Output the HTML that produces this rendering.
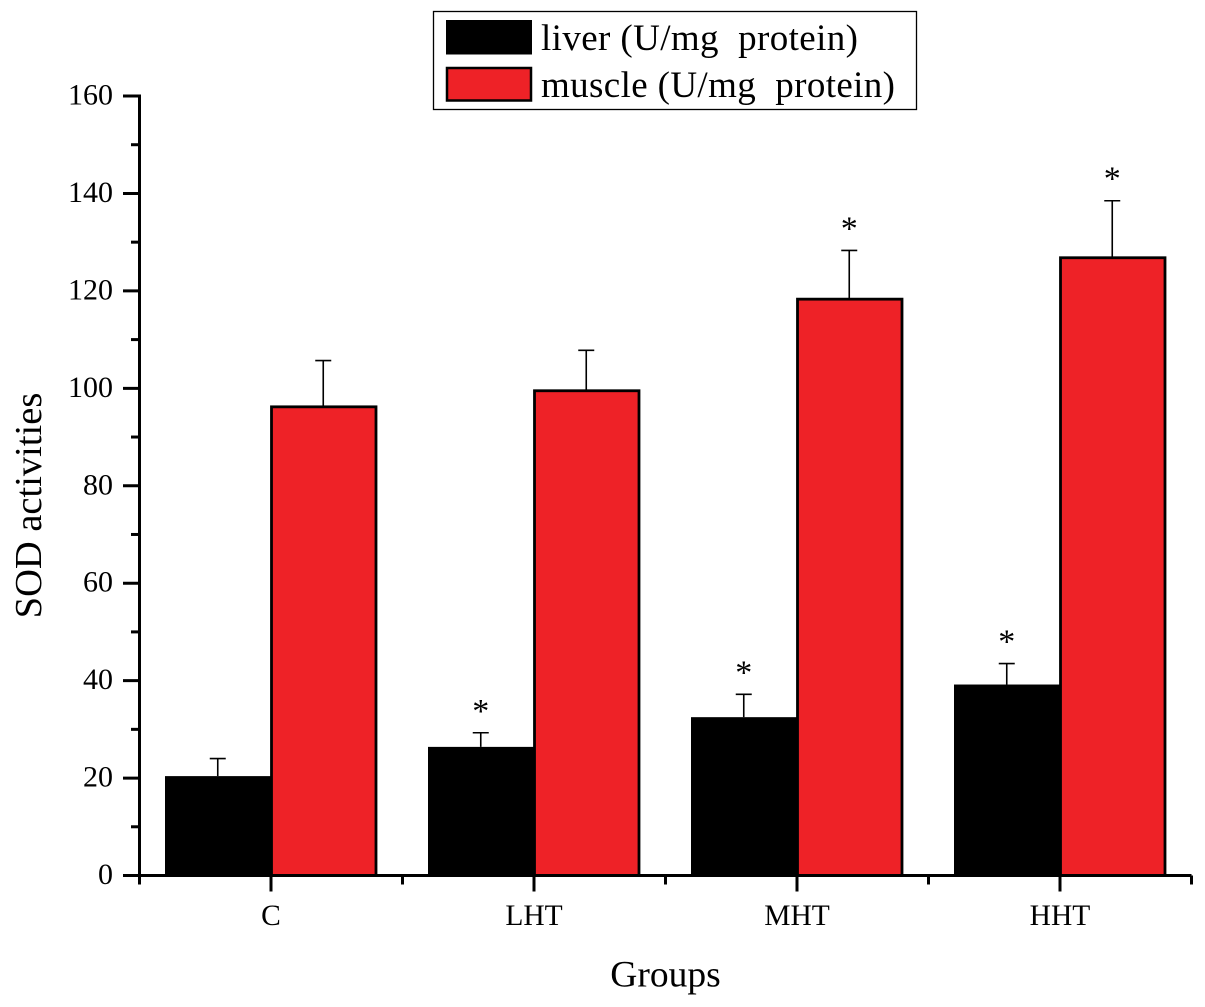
<!DOCTYPE html>
<html>
<head>
<meta charset="utf-8">
<title>SOD activities chart</title>
<style>
html,body{margin:0;padding:0;background:#fff;}
svg{display:block;}
text{font-family:"Liberation Serif",serif;fill:#000;white-space:pre;}
</style>
</head>
<body>
<svg id="chart" xmlns="http://www.w3.org/2000/svg" width="1205" height="1007" viewBox="0 0 1205 1007">
<rect width="1205" height="1007" fill="#fff"/>
<g id="bars"></g>
<g id="axes"></g>
<g id="legend">
<rect x="433.5" y="11.5" width="483" height="98" fill="#fff" stroke="#000" stroke-width="1.3"/>
<rect x="446" y="20" width="86" height="34.500" fill="#000"/>
<text x="541" y="50" font-size="37" textLength="317" lengthAdjust="spacing" xml:space="preserve">liver (U/mg  protein)</text>
<rect x="447" y="68" width="84" height="32.500" fill="#ee2227" stroke="#000" stroke-width="2.500"/>
<text x="541" y="97" font-size="37" textLength="354" lengthAdjust="spacing" xml:space="preserve">muscle (U/mg  protein)</text>
</g>
<text x="665.500" y="986.500" font-size="37.500" text-anchor="middle">Groups</text>
<text transform="translate(41 505.500) rotate(-90)" font-size="38.500" text-anchor="middle">SOD activities</text>
</svg>
<script>
const categories = ['C', 'LHT', 'MHT', 'HHT'];
const liverValues = [20.4, 26.4, 32.5, 39.2];
const muscleValues = [96.2, 99.5, 118.3, 126.8];
const liverErrors = [3.6, 2.9, 4.7, 4.3];
const muscleErrors = [9.5, 8.3, 10.0, 11.7];
const liverStars = [false, true, true, true];
const muscleStars = [false, false, true, true];
const yTickLabels = [0, 20, 40, 60, 80, 100, 120, 140, 160];

const NS = 'http://www.w3.org/2000/svg';
const yScale = v => 875.5 - v * (779.5 / 160);
const xScale = i => 271 + i * 263;
const BAR_W = 105.5;
const barsG = document.getElementById('bars');
const axesG = document.getElementById('axes');

function make(parent, tag, attrs, text) {
  const el = document.createElementNS(NS, tag);
  for (const k in attrs) el.setAttribute(k, attrs[k]);
  if (text !== undefined) el.textContent = text;
  parent.appendChild(el);
  return el;
}

function drawError(cx, value, err, capW, key) {
  const line = make(barsG, 'line', {x1: cx, x2: cx, y1: yScale(value), y2: yScale(value + err), stroke: '#000', 'stroke-width': 1.6});
  
  
  const cap = make(barsG, 'line', {x1: cx - capW, x2: cx + capW, y1: yScale(value + err), y2: yScale(value + err), stroke: '#000', 'stroke-width': 1.6});
  
  
}

function drawStar(cx, value, err, key) {
  const star = make(barsG, 'text', {x: cx, y: yScale(value + err) - 11, 'font-size': 34, 'text-anchor': 'middle'}, '*');
  
  
}

categories.forEach((cat, i) => {
  const cx = xScale(i);
  const k = cat.toLowerCase();
  drawError(cx - BAR_W / 2 - 0.5, liverValues[i], liverErrors[i], 8, 'liver-' + k);
  drawError(cx + BAR_W / 2 - 0.5, muscleValues[i], muscleErrors[i], 8, 'muscle-' + k);
  const lb = make(barsG, 'rect', {x: cx - BAR_W - 0.5, y: yScale(liverValues[i]), width: BAR_W + 0.5, height: yScale(0) - yScale(liverValues[i]), fill: '#000'});
  
  
  const mb = make(barsG, 'rect', {x: cx + 0.5, y: yScale(muscleValues[i]), width: BAR_W - 1, height: yScale(0) - yScale(muscleValues[i]), fill: '#ee2227', stroke: '#000', 'stroke-width': 2.8});
  
  
  if (liverStars[i]) drawStar(cx - BAR_W / 2 - 0.5, liverValues[i], liverErrors[i], 'liver-' + k);
  if (muscleStars[i]) drawStar(cx + BAR_W / 2 - 0.5, muscleValues[i], muscleErrors[i], 'muscle-' + k);
  const lbl = make(axesG, 'text', {x: cx, y: 925, 'font-size': 29.5, 'text-anchor': 'middle'}, cat);
  
  
});

const yAxis = make(axesG, 'line', {x1: 139.5, x2: 139.5, y1: yScale(160) - 1.5, y2: yScale(0) + 9, stroke: '#000', 'stroke-width': 3});


const xAxis = make(axesG, 'line', {x1: 123, x2: 1191.5, y1: yScale(0), y2: yScale(0), stroke: '#000', 'stroke-width': 3});



yTickLabels.forEach((v, i) => {
  const y = yScale(v);
  const t = make(axesG, 'line', {x1: 123, x2: 139.5, y1: y, y2: y, stroke: '#000', 'stroke-width': 3});
  
  
  const l = make(axesG, 'text', {x: 113, y: y + 8.5, 'font-size': 30, 'text-anchor': 'end'}, String(v));
  
  
  if (i < yTickLabels.length - 1) {
    const mv = (v + yTickLabels[i + 1]) / 2;
    const m = make(axesG, 'line', {x1: 131, x2: 139.5, y1: yScale(mv), y2: yScale(mv), stroke: '#000', 'stroke-width': 3});
    
    
  }
});

categories.forEach((cat, i) => {
  const cx = xScale(i);
  const major = make(axesG, 'line', {x1: cx, x2: cx, y1: yScale(0), y2: yScale(0) + 16, stroke: '#000', 'stroke-width': 3});
  
  
  [cx - 131.5, cx + 131.5].forEach((mx, j) => {
    if (j === 0 && i > 0) return;
    const minor = make(axesG, 'line', {x1: mx, x2: mx, y1: yScale(0), y2: yScale(0) + 9, stroke: '#000', 'stroke-width': 3});
    
    
  });
});
</script>
</body>
</html>
